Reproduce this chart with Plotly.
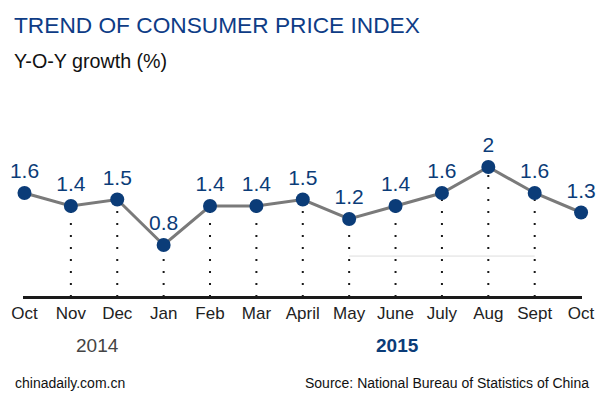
import plotly.graph_objects as go

months = ["Oct", "Nov", "Dec", "Jan", "Feb", "Mar", "April", "May", "June", "July", "Aug", "Sept", "Oct"]
cpi = [1.6, 1.4, 1.5, 0.8, 1.4, 1.4, 1.5, 1.2, 1.4, 1.6, 2.0, 1.6, 1.3]
labels = ["1.6", "1.4", "1.5", "0.8", "1.4", "1.4", "1.5", "1.2", "1.4", "1.6", "2", "1.6", "1.3"]
years = ["2014", "2015"]
year_pos = [1.58, 8.05]

NAVY = "#0b3c78"
FONT = "Liberation Sans, Arial, sans-serif"

idx = list(range(len(months)))

# dotted drop lines (not for first and last point)
dx, dy = [], []
for i in idx[1:-1]:
    dx += [i, i, None]
    dy += [0, cpi[i], None]

fig = go.Figure()
fig.add_trace(go.Scatter(x=dx, y=dy, mode="lines", hoverinfo="skip",
                         line=dict(color="#1a1a1a", width=2, dash="2px,10px")))
fig.add_trace(go.Scatter(x=[7, 11], y=[0.63, 0.63], mode="lines", hoverinfo="skip",
                         line=dict(color="#dddddd", width=1)))
fig.add_trace(go.Scatter(x=idx, y=cpi, mode="lines+markers+text", text=labels,
                         textposition="top center", cliponaxis=False,
                         textfont=dict(family=FONT, size=21, color=NAVY),
                         line=dict(color="#7a7a7a", width=3),
                         marker=dict(color=NAVY, size=14)))

fig.update_layout(
    width=600, height=397, margin=dict(l=0, r=0, t=0, b=0, pad=0, autoexpand=False),
    paper_bgcolor="white", plot_bgcolor="white", showlegend=False,
    xaxis=dict(domain=[23/600, 582/600], range=[-0.032, 12.02], anchor="free",
               position=1 - 297/397, showgrid=False, zeroline=False, automargin=False,
               showline=True, linecolor="#1a1a1a", linewidth=3,
               tickvals=idx, ticktext=months, ticks="",
               tickfont=dict(family=FONT, size=17, color="#222222")),
    yaxis=dict(range=[-100/65, 297/65], visible=False, showgrid=False, zeroline=False,
               automargin=False),
    annotations=[
        dict(text="TREND OF CONSUMER PRICE INDEX", x=12/600, y=1 - 24.5/397, xref="paper", yref="paper",
             xanchor="left", yanchor="middle", showarrow=False,
             font=dict(family=FONT, size=22.7, color="#0e3c86")),
        dict(text="Y-O-Y growth (%)", x=12/600, y=1 - 61.5/397, xref="paper", yref="paper",
             xanchor="left", yanchor="middle", showarrow=False,
             font=dict(family=FONT, size=19.7, color="#111111")),
        dict(text=years[0], x=year_pos[0], y=1 - 345.5/397, xref="x", yref="paper",
             xanchor="center", yanchor="middle", showarrow=False,
             font=dict(family=FONT, size=19, color="#444444")),
        dict(text="<b>" + years[1] + "</b>", x=year_pos[1], y=1 - 345.5/397, xref="x", yref="paper",
             xanchor="center", yanchor="middle", showarrow=False,
             font=dict(family=FONT, size=19, color=NAVY)),
        dict(text="chinadaily.com.cn", x=13/600, y=1 - 383/397, xref="paper", yref="paper",
             xanchor="left", yanchor="middle", showarrow=False,
             font=dict(family=FONT, size=14, color="#111111")),
        dict(text="Source: National Bureau of Statistics of China", x=591/600, y=1 - 383/397,
             xref="paper", yref="paper", xanchor="right", yanchor="middle", showarrow=False,
             font=dict(family=FONT, size=14, color="#111111")),
    ],
)

fig.write_html("out.html", config={"displayModeBar": False},
               post_script="document.body.style.margin='0';document.body.style.overflow='hidden';")
